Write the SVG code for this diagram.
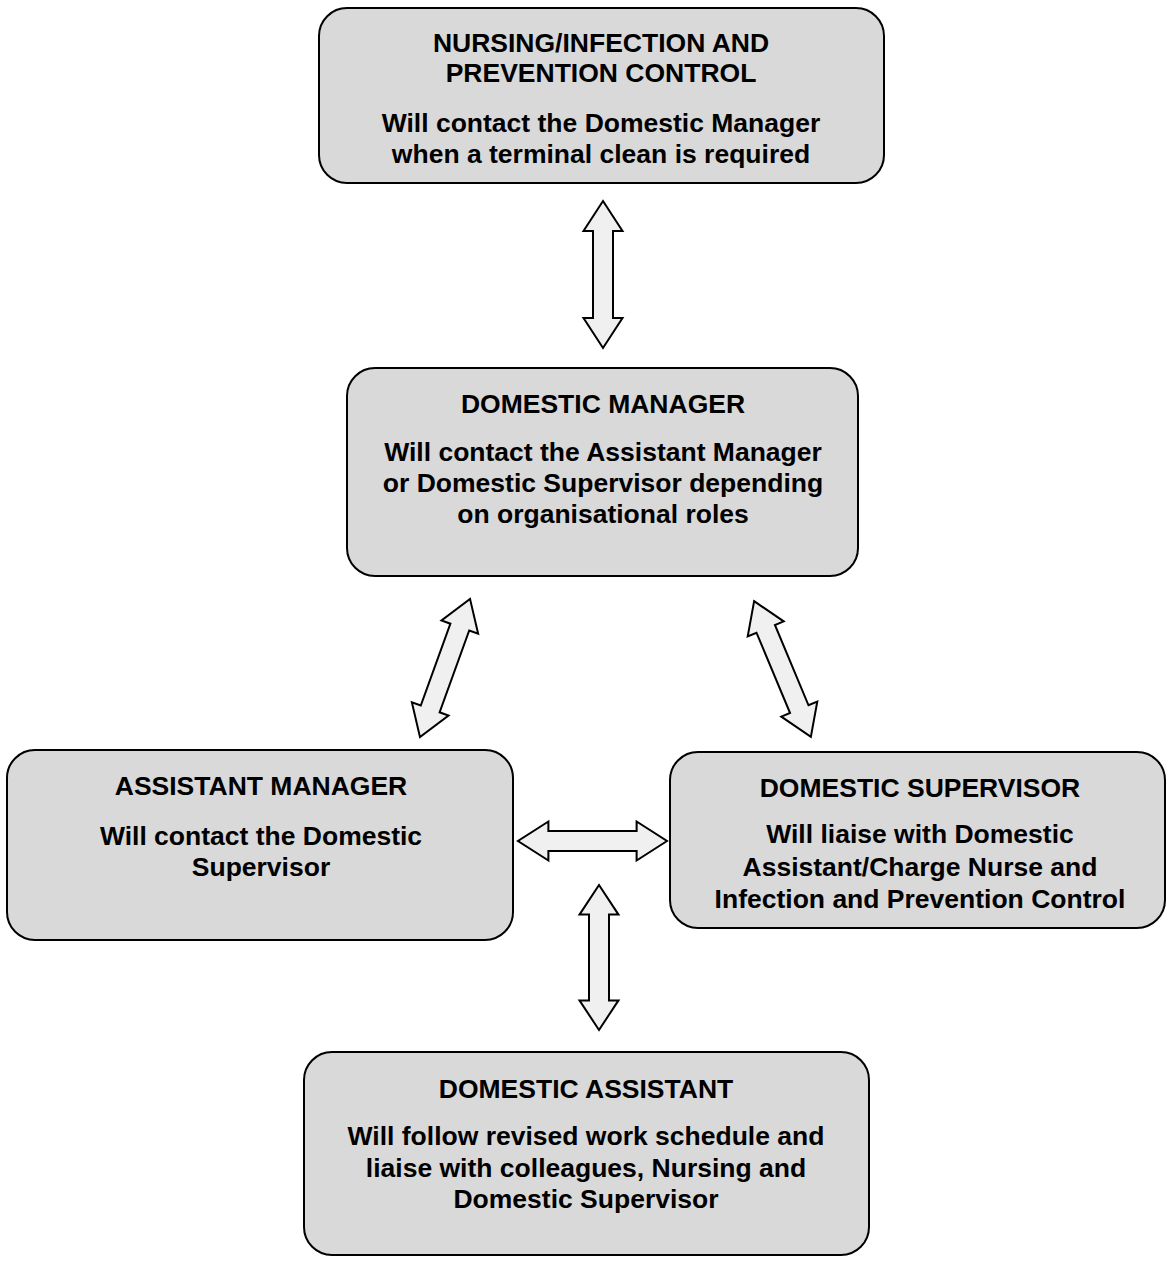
<svg xmlns="http://www.w3.org/2000/svg" width="1170" height="1262" viewBox="0 0 1170 1262">
<style>
.box{fill:#d9d9d9;stroke:#000;stroke-width:2}
.arr{fill:#f0f0f0;stroke:#000;stroke-width:2;stroke-linejoin:miter}
text{font-family:"Liberation Sans",Arial,sans-serif;font-weight:bold;font-size:26.5px;fill:#000;text-anchor:middle}
</style>
<defs>
<polygon id="dbl" points="0,-73.5 19.5,-43.5 10,-43.5 10,43.5 19.5,43.5 0,73.5 -19.5,43.5 -10,43.5 -10,-43.5 -19.5,-43.5"/>
</defs>
<rect width="1170" height="1262" fill="#fff"/>
<g id="connectors">
<use href="#dbl" class="arr" transform="translate(603,274.5)"/>
<use href="#dbl" class="arr" transform="translate(445,668) rotate(19.9)"/>
<use href="#dbl" class="arr" transform="translate(782.5,669) rotate(-22.7)"/>
<use href="#dbl" class="arr" transform="translate(592.5,841) rotate(90) scale(1,1.014)"/>
<use href="#dbl" class="arr" transform="translate(599,957.5) scale(1,0.986)"/>
</g>
<g id="nursing">
<rect class="box" x="319" y="8" width="565" height="175" rx="28"/>
<text x="601" y="52">NURSING/INFECTION AND</text>
<text x="601" y="82">PREVENTION CONTROL</text>
<text x="601" y="132">Will contact the Domestic Manager</text>
<text x="601" y="163">when a terminal clean is required</text>
</g>
<g id="domestic-manager">
<rect class="box" x="347" y="368" width="511" height="208" rx="28"/>
<text x="603" y="413">DOMESTIC MANAGER</text>
<text x="603" y="461">Will contact the Assistant Manager</text>
<text x="603" y="492">or Domestic Supervisor depending</text>
<text x="603" y="523">on organisational roles</text>
</g>
<g id="assistant-manager">
<rect class="box" x="7" y="750" width="506" height="190" rx="28"/>
<text x="261" y="795">ASSISTANT MANAGER</text>
<text x="261" y="845">Will contact the Domestic</text>
<text x="261" y="876">Supervisor</text>
</g>
<g id="domestic-supervisor">
<rect class="box" x="670" y="752" width="495" height="176" rx="28"/>
<text x="920" y="797">DOMESTIC SUPERVISOR</text>
<text x="920" y="843">Will liaise with Domestic</text>
<text x="920" y="876">Assistant/Charge Nurse and</text>
<text x="920" y="908">Infection and Prevention Control</text>
</g>
<g id="domestic-assistant">
<rect class="box" x="304" y="1052" width="565" height="203" rx="28"/>
<text x="586" y="1098">DOMESTIC ASSISTANT</text>
<text x="586" y="1145">Will follow revised work schedule and</text>
<text x="586" y="1177">liaise with colleagues, Nursing and</text>
<text x="586" y="1208">Domestic Supervisor</text>
</g>
</svg>
